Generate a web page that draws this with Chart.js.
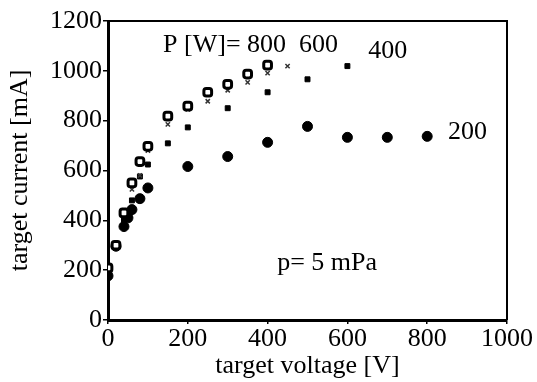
<!DOCTYPE html>
<html>
<head>
<meta charset="utf-8">
<script src="https://cdn.jsdelivr.net/npm/chart.js@4"></script>
<style>
  html, body { margin: 0; padding: 0; background: #fff; }
  #wrap { width: 537px; height: 382px; }
</style>
</head>
<body>
<div id="wrap"><canvas id="chart" width="537" height="382"></canvas></div>
<script>
// target voltage [V] / target current [mA] (p = 5 mPa)
const xTicks = [0, 200, 400, 600, 800, 1000];
const yTicks = [0, 200, 400, 600, 800, 1000, 1200];

const v800 = [0, 20, 40, 60, 80, 100, 150, 200, 250, 300, 350, 400];
const i800 = [209, 300, 430, 550, 636, 697, 818, 858, 914, 946, 987, 1023];

const v600 = [0, 20, 40, 60, 80, 100, 150, 200, 250, 300, 350, 400, 450];
const i600 = [200, 305, 440, 524, 580, 680, 785, 845, 878, 922, 954, 991, 1019];

const v400 = [0, 20, 40, 60, 80, 100, 150, 200, 300, 400, 500, 600];
const i400 = [190, 300, 400, 480, 576, 624, 709, 773, 850, 914, 966, 1019];

const v200 = [0, 20, 40, 50, 60, 80, 100, 200, 300, 400, 500, 600, 700, 800];
const i200 = [177, 296, 375, 410, 443, 487, 530, 616, 656, 713, 777, 733, 733, 737];

// text labels placed in data coordinates
const notes = [
  { text: "P [W]= 800  600", x: 138, y: 1104 },
  { text: "400", x: 652, y: 1079 },
  { text: "200", x: 852, y: 753 },
  { text: "p= 5 mPa", x: 424, y: 230 }
];

const serif = "'Liberation Serif', 'Times New Roman', serif";
const fs = 26;

function pts(xs, ys) {
  return xs.map((x, k) => ({ x: x, y: ys[k] }));
}

const frameAndNotes = {
  id: 'frameAndNotes',
  afterDraw(chart) {
    const ctx = chart.ctx;
    const a = chart.chartArea;
    ctx.save();
    ctx.strokeStyle = '#000';
    ctx.lineWidth = 2;
    ctx.beginPath();
    ctx.moveTo(a.left, a.top);
    ctx.lineTo(a.right, a.top);
    ctx.lineTo(a.right, a.bottom);
    ctx.stroke();
    ctx.fillStyle = '#000';
    ctx.font = fs + "px " + serif;
    ctx.textAlign = 'left';
    ctx.textBaseline = 'middle';
    notes.forEach(n => {
      ctx.fillText(n.text, chart.scales.x.getPixelForValue(n.x), chart.scales.y.getPixelForValue(n.y));
    });
    ctx.restore();
  }
};

new Chart(document.getElementById('chart').getContext('2d'), {
  type: 'scatter',
  data: {
    datasets: [
      {
        label: '800 W',
        data: pts(v800, i800),
        pointStyle: 'rectRounded',
        pointRadius: 4.5,
        borderWidth: 3,
        borderColor: '#000',
        backgroundColor: '#fff'
      },
      {
        label: '600 W',
        data: pts(v600, i600),
        pointStyle: 'crossRot',
        pointRadius: 3,
        borderWidth: 1.5,
        borderColor: '#333'
      },
      {
        label: '400 W',
        data: pts(v400, i400),
        pointStyle: 'rect',
        pointRadius: 3.5,
        borderWidth: 1,
        borderColor: '#000',
        backgroundColor: '#000'
      },
      {
        label: '200 W',
        data: pts(v200, i200),
        pointStyle: 'circle',
        pointRadius: 5,
        borderWidth: 1,
        borderColor: '#000',
        backgroundColor: '#000'
      }
    ]
  },
  options: {
    responsive: false,
    animation: false,
    layout: { padding: { top: 21, right: 30, left: 0, bottom: 0 } },
    plugins: {
      legend: { display: false },
      tooltip: { enabled: false }
    },
    scales: {
      x: {
        type: 'linear',
        min: 0,
        max: 1000,
        afterBuildTicks: axis => { axis.ticks = xTicks.map(v => ({ value: v })); },
        afterFit: axis => { axis.height = 62; },
        border: { display: true, color: '#000', width: 3 },
        grid: { drawOnChartArea: false, drawTicks: true, tickLength: 4, color: '#000', lineWidth: 1.5 },
        ticks: { color: '#000', font: { family: serif, size: fs }, padding: 0, maxRotation: 0, callback: v => String(v) },
        title: {
          display: true,
          text: 'target voltage [V]',
          color: '#000',
          font: { family: serif, size: fs },
          padding: { top: 0, bottom: 0 }
        }
      },
      y: {
        type: 'linear',
        min: 0,
        max: 1200,
        afterBuildTicks: axis => { axis.ticks = yTicks.map(v => ({ value: v })); },
        afterFit: axis => { axis.width = 108; },
        border: { display: true, color: '#000', width: 3 },
        grid: { drawOnChartArea: false, drawTicks: true, tickLength: 5, color: '#000', lineWidth: 1.5 },
        ticks: { color: '#000', font: { family: serif, size: fs }, padding: 1, callback: v => String(v) },
        title: {
          display: true,
          text: 'target current [mA]',
          color: '#000',
          font: { family: serif, size: fs },
          padding: { top: 5, bottom: 0 }
        }
      }
    }
  },
  plugins: [frameAndNotes]
});
</script>
</body>
</html>
